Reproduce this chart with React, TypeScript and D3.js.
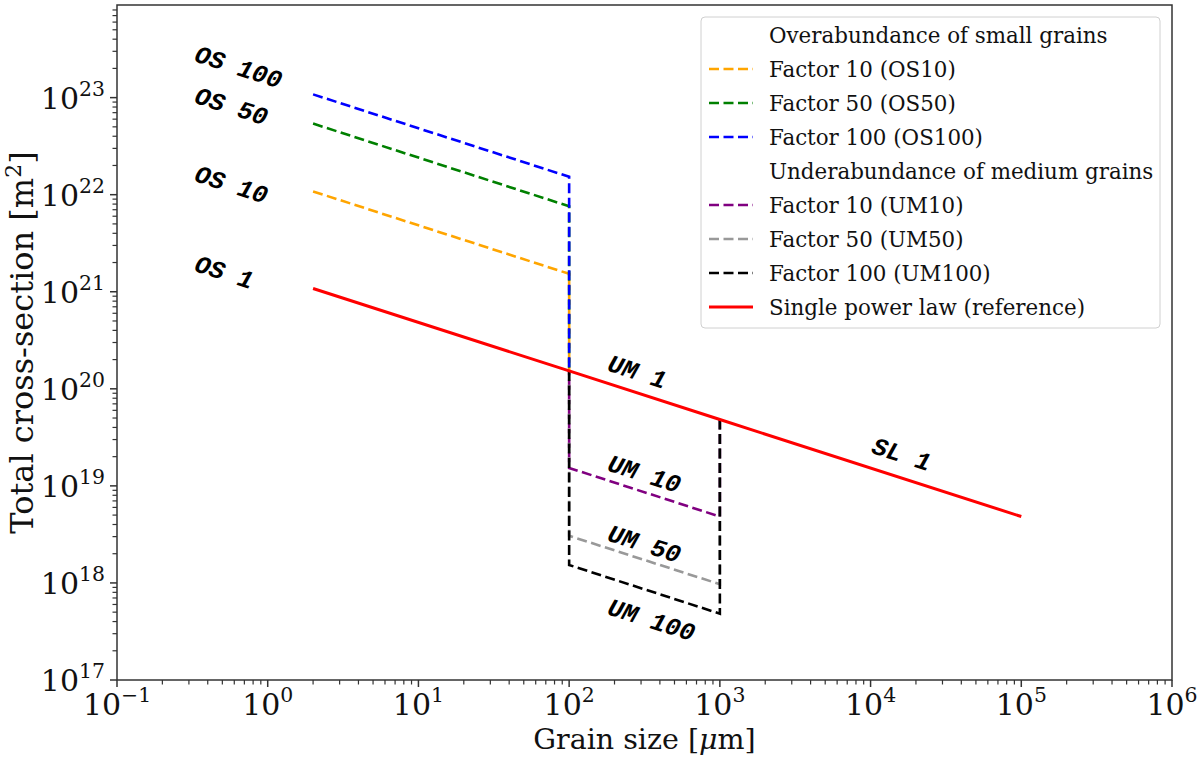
import * as d3 from "d3"

// series: [grain size µm, total cross-section m²]
const reference = [[2, 1.08e21], [100, 1.53e20], [1000, 4.83e19], [1e5, 4.83e18]]
const os10 = [[2, 1.08e22], [100, 1.53e21], [100, 1.53e20]]
const os50 = [[2, 5.4e22], [100, 7.6e21], [100, 1.53e20]]
const os100 = [[2, 1.08e23], [100, 1.53e22], [100, 1.53e20]]
const um10 = [[1000, 4.83e19], [1000, 4.83e18], [100, 1.53e19], [100, 1.53e20]]
const um50 = [[1000, 4.83e19], [1000, 9.7e17], [100, 3.06e18], [100, 1.53e20]]
const um100 = [[1000, 4.83e19], [1000, 4.83e17], [100, 1.53e18], [100, 1.53e20]]

const seriesData = [os10, os50, os100, um10, um50, um100, reference]
const seriesColors = ["orange", "green", "blue", "purple", "#999999", "black", "red"]
const seriesDashed = [true, true, true, true, true, true, false]

const legendLabels = [
  "Overabundance of small grains",
  "Factor 10 (OS10)",
  "Factor 50 (OS50)",
  "Factor 100 (OS100)",
  "Underabundance of medium grains",
  "Factor 10 (UM10)",
  "Factor 50 (UM50)",
  "Factor 100 (UM100)",
  "Single power law (reference)",
]
const legendColors = [null, "orange", "green", "blue", null, "purple", "#999999", "black", "red"]

// annotations placed in data coordinates
const noteText = ["OS 100", "OS 50", "OS 10", "OS 1", "UM 1", "UM 10", "UM 50", "UM 100", "SL 1"]
const noteX = [0.32, 0.32, 0.32, 0.32, 176, 176, 176, 176, 1.0e4]
const noteY = [2.39e23, 8.9e22, 1.39e22, 1.65e21, 1.55e20, 1.45e19, 2.76e18, 4.8e17, 2.2e19]

const xMajor = [-1, 0, 1, 2, 3, 4, 5, 6]
const yMajor = [17, 18, 19, 20, 21, 22, 23]

const W = 1200
const H = 764
const margin = { top: 5, right: 28, bottom: 84, left: 117 }

export default function App() {
  const x = d3.scaleLog().domain([0.1, 1e6]).range([margin.left, W - margin.right])
  const y = d3.scaleLog().domain([1e17, 9e23]).range([H - margin.bottom, margin.top])
  const line = d3
    .line<number[]>()
    .x((d) => x(d[0]))
    .y((d) => y(d[1]))

  const x0 = x.range()[0]
  const x1 = x.range()[1]
  const y0 = y.range()[0]
  const y1 = y.range()[1]

  const xMinor: number[] = []
  xMajor.slice(0, -1).forEach((e) => d3.range(2, 10).forEach((k) => xMinor.push(k * Math.pow(10, e))))
  const yMinor: number[] = []
  yMajor.forEach((e) =>
    d3.range(2, 10).forEach((k) => {
      const v = k * Math.pow(10, e)
      if (v <= y.domain()[1]) yMinor.push(v)
    }),
  )

  // slope angle of the power law in screen space
  const ang = (Math.atan2(y(reference[3][1]) - y(reference[0][1]), x(reference[3][0]) - x(reference[0][0])) * 180) / Math.PI

  const serif = "'DejaVu Serif', serif"
  const tickFs = 30
  const lgX = 701
  const lgY = 17
  const rowH = 34

  return (
    <svg width={W} height={H} style={{ position: "absolute", left: 0, top: 0, background: "white" }} fontFamily={serif}>
      <g>
        {seriesData.map((d, i) => (
          <path
            key={i}
            d={line(d) || ""}
            fill="none"
            stroke={seriesColors[i]}
            strokeWidth={seriesDashed[i] ? 2.6 : 3}
            strokeDasharray={seriesDashed[i] ? "10,4.5" : undefined}
          />
        ))}
      </g>

      {/* annotations */}
      {noteText.map((t, i) => (
        <text
          key={t}
          transform={`translate(${x(noteX[i])},${y(noteY[i])}) rotate(${ang})`}
          fontFamily="'Liberation Mono', monospace"
          fontWeight="bold"
          fontStyle="italic"
          fontSize={25}
          fill="black"
        >
          {t}
        </text>
      ))}

      {/* spines */}
      <rect x={x0} y={y1} width={x1 - x0} height={y0 - y1} fill="none" stroke="#333" strokeWidth={1.5} />

      {/* x ticks */}
      {xMinor.map((v) => (
        <line key={"xm" + v} x1={x(v)} x2={x(v)} y1={y0} y2={y0 + 4.5} stroke="#333" strokeWidth={1.2} />
      ))}
      {xMajor.map((e) => (
        <g key={"xM" + e}>
          <line x1={x(Math.pow(10, e))} x2={x(Math.pow(10, e))} y1={y0} y2={y0 + 7} stroke="#333" strokeWidth={1.5} />
          <text x={x(Math.pow(10, e))} y={y0 + 35} textAnchor="middle" fontSize={tickFs} fill="#111">
            <tspan>10</tspan>
            <tspan dy={-0.42 * tickFs} fontSize={tickFs * 0.68}>
              {e < 0 ? "\u2212" + Math.abs(e) : e}
            </tspan>
          </text>
        </g>
      ))}

      {/* y ticks */}
      {yMinor.map((v) => (
        <line key={"ym" + v} x1={x0 - 4.5} x2={x0} y1={y(v)} y2={y(v)} stroke="#333" strokeWidth={1.2} />
      ))}
      {yMajor.map((e) => (
        <g key={"yM" + e}>
          <line x1={x0 - 7} x2={x0} y1={y(Math.pow(10, e))} y2={y(Math.pow(10, e))} stroke="#333" strokeWidth={1.5} />
          <text x={x0 - 12} y={y(Math.pow(10, e)) + 11} textAnchor="end" fontSize={tickFs} fill="#111">
            <tspan>10</tspan>
            <tspan dy={-0.42 * tickFs} fontSize={tickFs * 0.68}>
              {e}
            </tspan>
          </text>
        </g>
      ))}

      {/* axis labels */}
      <text x={(x0 + x1) / 2} y={749} textAnchor="middle" fontSize={28.5} fill="#111">
        Grain size [<tspan fontStyle="italic">μ</tspan>m]
      </text>
      <text
        transform={`translate(33,${(y0 + y1) / 2}) rotate(-90)`}
        textAnchor="middle"
        fontSize={32}
        fill="#111"
      >
        Total cross-section [m<tspan dy={-12} fontSize={22}>2</tspan>
        <tspan dy={12}>]</tspan>
      </text>

      {/* legend */}
      <rect x={lgX} y={lgY} width={459} height={311} rx={4} fill="white" fillOpacity={0.8} stroke="#d0d0d0" strokeWidth={1} />
      {legendLabels.map((t, i) => {
        const cy = lgY + 18 + i * rowH
        const c = legendColors[i]
        return (
          <g key={t}>
            {c && (
              <line
                x1={lgX + 8}
                x2={lgX + 52}
                y1={cy}
                y2={cy}
                stroke={c}
                strokeWidth={c === "red" ? 3 : 2.6}
                strokeDasharray={c === "red" ? undefined : "10,4.5"}
              />
            )}
            <text x={lgX + 68} y={cy + 8} fontSize={21.4} fill="#111">
              {t}
            </text>
          </g>
        )
      })}
    </svg>
  )
}
